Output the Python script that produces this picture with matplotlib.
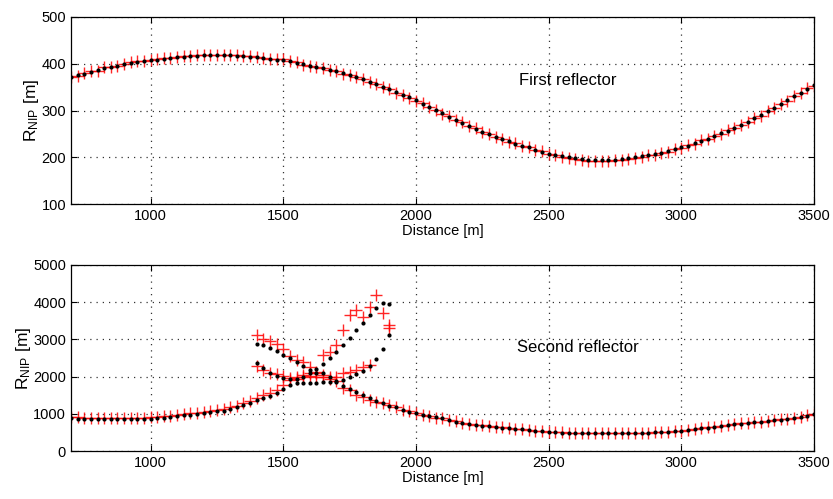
import numpy as np
import matplotlib
matplotlib.use('Agg')
import matplotlib.pyplot as plt

plt.rcParams['font.family'] = ['Liberation Sans', 'DejaVu Sans']
plt.rcParams['mathtext.fontset'] = 'custom'
plt.rcParams['mathtext.rm'] = 'Liberation Sans'
plt.rcParams['mathtext.it'] = 'Liberation Sans:italic'
plt.rcParams['font.size'] = 10.5

nan = np.nan

# ---- first reflector (25 m sampling, 700..3500 m)
x_top = np.arange(700, 3501, 25)
top_black = [371, 375, 379, 383, 387, 390, 393, 396, 399, 401,
             403, 405, 407, 409, 411, 412, 414, 415, 416, 417,
             418, 418, 418, 418, 418, 417, 416, 415, 414, 412,
             411, 409, 408, 405, 402, 399, 396, 393, 390, 387,
             384, 380, 376, 372, 367, 362, 356, 351, 345, 339,
             334, 328, 322, 315, 308, 301, 294, 287, 280, 274,
             267, 261, 255, 249, 244, 239, 234, 229, 225, 221,
             216, 212, 208, 205, 202, 200, 198, 196, 195, 194,
             194, 194, 195, 196, 198, 200, 202, 204, 207, 210,
             213, 217, 221, 225, 230, 235, 240, 245, 251, 257,
             263, 269, 276, 283, 290, 298, 306, 314, 322, 330,
             338, 347, 355]
top_red = [372, 374, 381, 384, 385, 392, 394, 395, 400, 403,
           405, 406, 408, 410, 412, 413, 414, 416, 417, 418,
           419, 419, 419, 419, 418, 418, 417, 416, 414, 413,
           411, 410, 411, 406, 403, 398, 396, 392, 390, 386,
           385, 379, 377, 371, 368, 361, 357, 350, 346, 337,
           333, 327, 320, 316, 307, 302, 293, 288, 279, 275,
           266, 262, 254, 250, 243, 240, 233, 230, 224, 222,
           215, 213, 207, 204, 201, 199, 196, 194, 193, 193,
           193, 193, 194, 195, 197, 199, 201, 204, 206, 210,
           212, 218, 220, 226, 229, 236, 239, 246, 250, 258,
           262, 270, 275, 284, 289, 299, 305, 315, 321, 331,
           337, 348, 352]

# ---- second reflector, three branches
xa = np.arange(700, 1901, 25)
a_black = [880, 875, 870, 866, 862, 858, 855, 853, 852, 852, 853, 860,
           870, 880, 895, 915, 940, 960, 980, 995, 1013, 1040, 1065, 1090,
           1120, 1175, 1236, 1300, 1370, 1420, 1480, 1555, 1655, 1770, 1835, 1835,
           1835, 1835, 1845, 1860, 1862, 1910, 1995, 2060, 2158, 2293, 2464, 2733,
           3130]
a_red = [915, 905, 900, 900, 895, 895, 890, 890, 890, 890, 895, 900,
         905, 915, 930, 950, 975, 990, 1010, 1030, 1055, 1080, 1110, 1140,
         1175, 1220, 1280, 1340, 1430, 1520, 1550, 1640, 1770, 1900, 2000, 2040,
         2085, 2085, 2050, 2000, 2000, 2090, 2130, 2180, 2265, 2310, nan, nan,
         3297]

xb = np.arange(1400, 1901, 25)
b_black = [2885, 2848, 2776, 2695, 2580, 2490, 2400, 2284, 2180, 2200, 2338,
           2490, 2660, 2850, 3040, 3246, 3452, 3658, 3838, 3974, 3946]
b_red = [3130, 3020, 2970, 2880, 2740, 2560, 2450, 2390, 2260, 2120, 2590,
         2660, 2848, 3251, 3650, 3800, 3600, 3870, 4200, 3700, 3390]

xc = np.arange(1400, 3501, 25)
c_black = [2376, 2221, 2105, 2030, 1960, 1930, 1925, 1990, 2087, 2087,
           2110, 1990, 1880, 1750, 1658, 1594, 1505, 1433, 1352, 1281,
           1218, 1173, 1102, 1057, 1013,
           975, 940, 905, 878, 835, 790, 755, 725, 700, 680,
           665, 650, 630, 610, 595, 583, 565, 546, 530, 519,
           505, 495, 488, 482, 477, 475, 474, 474, 474, 474,
           475, 476, 480, 486, 492, 500, 510, 520, 532, 546,
           565, 590, 612, 632, 650, 668, 695, 718, 740, 760,
           775, 792, 808, 825, 845, 870, 895, 922, 955, 985]
c_red = [2290, 2190, 2100, 2070, 2010, 1960, 1950, 1990, 2020, 2000,
         1990, 1940, 1870, 1684, 1640, 1505, 1460, 1370, 1330, 1280,
         1235, 1180, 1110, 1065, 1020,
         980, 950, 900, 885, 840, 800, 760, 735, 705, 690,
         670, 655, 640, 615, 600, 585, 570, 550, 540, 525,
         510, 500, 490, 485, 480, 478, 476, 475, 477, 476,
         478, 480, 484, 488, 495, 503, 512, 522, 535, 550,
         568, 592, 615, 635, 652, 672, 698, 720, 742, 762,
         778, 795, 812, 828, 850, 872, 898, 925, 958, 990]

fig = plt.figure(figsize=(8.33, 4.99), dpi=100)
ax1 = fig.add_axes([0.0852, 0.591, 0.892, 0.375])
ax2 = fig.add_axes([0.0852, 0.096, 0.892, 0.373])

plus = dict(ls='none', marker='+', ms=8, mew=1.0, color='red', alpha=0.85)
dot = dict(ls='none', marker='o', ms=3.0, mew=0, color='black')


def style(ax, ylim, yt):
    ax.set_xlim(700, 3500)
    ax.set_ylim(*ylim)
    ax.set_xticks([1000, 1500, 2000, 2500, 3000, 3500])
    ax.set_yticks(yt)
    ax.grid(True, ls=(0, (1, 4)), color='#333333', lw=0.9)
    ax.tick_params(direction='in', top=True, right=True, length=4, width=0.8)
    for s in ax.spines.values():
        s.set_linewidth(0.9)
    ax.set_xlabel('Distance [m]', labelpad=1)
    ax.set_ylabel(r'R$_{\mathrm{NIP}}$ [m]', fontsize=12.5, labelpad=0)


ax1.plot(x_top, top_red, **plus)
ax1.plot(x_top, top_black, **dot)
style(ax1, (100, 500), [100, 200, 300, 400, 500])
ax1.text(2571, 364, 'First reflector', ha='center', va='center', fontsize=12)

for xx, rr in [(xa, a_red), (xb, b_red), (xc, c_red)]:
    ax2.plot(xx, rr, **plus)
for xx, bb in [(xa, a_black), (xb, b_black), (xc, c_black)]:
    ax2.plot(xx, bb, **dot)
style(ax2, (0, 5000), [0, 1000, 2000, 3000, 4000, 5000])
ax2.text(2609, 2776, 'Second reflector', ha='center', va='center', fontsize=12)

fig.savefig('out.png', dpi=100)
